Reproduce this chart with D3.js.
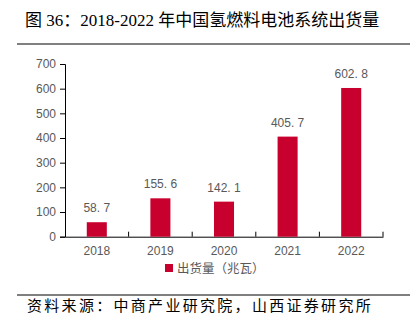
<!DOCTYPE html>
<html><head><meta charset="utf-8">
<script src="https://cdn.jsdelivr.net/npm/d3@7/dist/d3.min.js"></script>
<style>body{margin:0;background:#fff;}svg{display:block;}</style>
</head><body>
<svg id="c" width="416" height="322"></svg>
<script>
const categories = ["2018","2019","2020","2021","2022"];
const values = [58.7,155.6,142.1,405.7,602.8];
const valueLabels = ["58. 7","155. 6","142. 1","405. 7","602. 8"];
const yTicks = [0,100,200,300,400,500,600,700];
const seriesName = "出货量（兆瓦）";
const titleText = "图 36：2018-2022 年中国氢燃料电池系统出货量";
const sourceText = "资料来源：中商产业研究院，山西证券研究所";

const svg = d3.select("#c");
const red = "#C8002D";
const gray = "#595959";
const m = {left:65, right:383, top:64, bottom:236.7};

svg.append("text").attr("x",25).attr("y",26)
  .attr("font-family","'Liberation Serif','Noto Sans CJK SC',serif")
  .attr("font-size",17).attr("fill","#000").text(titleText);
svg.append("line").attr("x1",17).attr("x2",410).attr("y1",44).attr("y2",44)
  .attr("stroke","#000").attr("stroke-width",1);

const x = d3.scaleBand().domain(categories).range([m.left,m.right]).paddingInner(0.685).paddingOuter(0.3425);
const y = d3.scaleLinear().domain([0,700]).range([m.bottom,m.top]);

const yAxis = svg.append("g").attr("transform",`translate(${m.left},0)`)
  .call(d3.axisLeft(y).tickValues(yTicks).tickSize(5).tickPadding(4));
yAxis.select(".domain").attr("stroke","#000");
yAxis.selectAll(".tick line").attr("stroke","#000");
yAxis.selectAll("text").attr("fill",gray).attr("font-size",12).attr("font-family","'Liberation Sans',Arial,sans-serif");

const xAxis = svg.append("g").attr("transform",`translate(0,${m.bottom})`)
  .call(d3.axisBottom(x).tickSize(0).tickPadding(10).tickSizeOuter(0));
xAxis.select(".domain").attr("stroke","#000");
xAxis.selectAll("text").attr("fill",gray).attr("font-size",12).attr("font-family","'Liberation Sans',Arial,sans-serif");
// boundary ticks
const bounds = d3.range(categories.length+1).map(i => m.left + i*(m.right-m.left)/categories.length);
svg.append("g").selectAll("line").data(bounds.slice(1)).join("line")
  .attr("x1",d=>d).attr("x2",d=>d).attr("y1",m.bottom-5).attr("y2",m.bottom)
  .attr("stroke","#000");

svg.append("g").selectAll("rect").data(values).join("rect")
  .attr("x",(d,i)=>x(categories[i])).attr("width",x.bandwidth())
  .attr("y",d=>y(d)).attr("height",d=>y(0)-y(d)).attr("fill",red);

svg.append("g").selectAll("text").data(values).join("text")
  .attr("x",(d,i)=>x(categories[i])+x.bandwidth()/2).attr("y",d=>y(d)-10)
  .attr("text-anchor","middle").attr("fill",gray).attr("font-size",12)
  .attr("font-family","'Liberation Sans',Arial,sans-serif")
  .text((d,i)=>valueLabels[i]);

svg.append("rect").attr("x",165).attr("y",264).attr("width",8).attr("height",8).attr("fill",red);
svg.append("text").attr("x",177).attr("y",272.5).attr("fill",gray).attr("font-size",12.5)
  .attr("font-family","'Noto Sans CJK SC',sans-serif").text(seriesName);

svg.append("line").attr("x1",17).attr("x2",410).attr("y1",295).attr("y2",295)
  .attr("stroke","#000").attr("stroke-width",1);
svg.append("text").attr("x",27).attr("y",311)
  .attr("font-family","'Noto Sans CJK SC',sans-serif")
  .attr("font-size",15).attr("letter-spacing",2.3).attr("fill","#000").text(sourceText);
</script>
</body></html>
